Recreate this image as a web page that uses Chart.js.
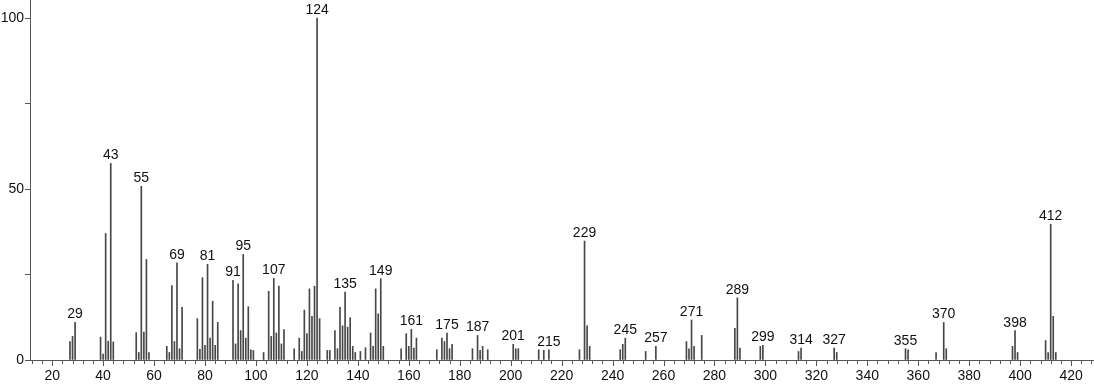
<!DOCTYPE html>
<html>
<head>
<meta charset="utf-8">
<script src="https://cdn.jsdelivr.net/npm/chart.js@4.4.1/dist/chart.umd.min.js"></script>
<style>
  html, body { margin: 0; padding: 0; background: #fff; }
  #wrap { width: 1094px; height: 384px; position: relative; }
</style>
</head>
<body>
<div id="wrap"><canvas id="chart1"></canvas></div>
<script>
// m/z values and relative intensities
const mz = [27, 28, 29, 39, 40, 41, 42, 43, 44, 53, 54, 55, 56, 57, 58, 65, 66, 67, 68, 69, 70, 71,
  77, 78, 79, 80, 81, 82, 83, 84, 85, 91, 92, 93, 94, 95, 96, 97, 98, 99, 103, 105, 106, 107, 108,
  109, 110, 111, 115, 117, 118, 119, 120, 121, 122, 123, 124, 125, 128, 129, 131, 132, 133, 134,
  135, 136, 137, 138, 139, 141, 143, 145, 146, 147, 148, 149, 150, 157, 159, 160, 161, 162, 163,
  171, 173, 174, 175, 176, 177, 185, 187, 188, 189, 191, 201, 202, 203, 211, 213, 215, 227, 229,
  230, 231, 243, 244, 245, 253, 257, 269, 270, 271, 272, 275, 288, 289, 290, 298, 299, 313, 314,
  327, 328, 355, 356, 367, 370, 371, 397, 398, 399, 410, 411, 412, 413, 414]
const intensity = [5.4, 6.9, 11.0, 6.7, 1.7, 37.0, 5.5, 57.5, 5.3, 8.0, 2.2, 50.8, 8.2, 29.4, 2.2, 4.0, 2.2, 21.8, 5.4, 28.4, 3.3, 15.4,
  12.1, 3.1, 24.1, 4.3, 28.0, 6.4, 17.2, 4.3, 11.0, 23.3, 4.7, 22.3, 8.6, 30.9, 6.4, 15.6, 3.0, 2.8, 2.2, 20.1, 6.9, 23.9, 7.9,
  21.6, 4.7, 8.9, 3.3, 6.4, 2.5, 14.6, 7.7, 20.8, 12.8, 21.6, 100, 12.1, 2.8, 2.8, 8.6, 3.3, 15.4, 10.0,
  19.9, 9.6, 12.4, 4.0, 2.2, 2.5, 3.6, 7.9, 4.0, 20.8, 13.5, 23.8, 4.0, 3.3, 7.7, 4.0, 9.0, 3.5, 6.4,
  3.0, 6.4, 5.4, 7.9, 3.3, 4.6, 3.3, 7.2, 2.8, 4.0, 3.0, 4.6, 3.3, 3.3, 3.0, 2.8, 3.0, 3.0, 34.8,
  10.0, 4.0, 3.0, 4.6, 6.4, 2.5, 4.0, 5.4, 3.3, 11.7, 4.0, 7.2, 9.3, 18.2, 3.5, 4.0, 4.3, 2.5, 3.5,
  3.5, 2.2, 3.3, 3.0, 2.2, 11.0, 3.3, 4.0, 8.6, 2.2, 5.7, 2.2, 39.7, 12.8, 2.2]
// peaks that carry a number above them
const labelled = [29, 43, 55, 69, 81, 91, 95, 107, 124, 135, 149, 161, 175, 187, 201, 215, 229,
  245, 257, 271, 289, 299, 314, 327, 355, 370, 398, 412]
const xLabels = [20, 40, 60, 80, 100, 120, 140, 160, 180, 200, 220, 240, 260, 280, 300, 320, 340, 360, 380, 400, 420]
const yTicks = [0, 25, 50, 75, 100]
const yLabels = [0, 50, 100]

const fontFamily = "'Liberation Sans', Arial, sans-serif"
const axisColor = '#555'

//draws the small ticks under the x axis and the peak numbers
const peakLabels = {
  id: 'peakLabels',
  afterDatasetsDraw(chart) {
    const ctx = chart.ctx
    const meta = chart.getDatasetMeta(0)
    ctx.save()
    ctx.font = '14px ' + fontFamily
    ctx.fillStyle = '#111'
    ctx.textAlign = 'center'
    ctx.textBaseline = 'alphabetic'
    labelled.forEach(m => {
      const i = mz.indexOf(m)
      if (i < 0) return
      const el = meta.data[i]
      ctx.fillText(String(m), el.x, el.y - 4)
    })
    ctx.restore()
  },
  afterDraw(chart) {
    const ctx = chart.ctx
    const xs = chart.scales.x
    const bottom = chart.chartArea.bottom
    ctx.save()
    ctx.strokeStyle = axisColor
    ctx.lineWidth = 1
    for (let v = 12; v <= 428; v += 4) {
      const px = Math.round(xs.getPixelForValue(v)) + 0.5
      const len = v % 20 === 0 ? 6 : 4
      ctx.beginPath()
      ctx.moveTo(px, bottom)
      ctx.lineTo(px, bottom + len)
      ctx.stroke()
    }
    ctx.restore()
  }
}

const ctx1 = document.getElementById('chart1').getContext('2d')
const spectrum = new Chart(ctx1, {
  type: 'bar',
  data: {
    datasets: [{
      data: mz.map((m, i) => ({ x: m, y: intensity[i] })),
      backgroundColor: '#474747',
      borderWidth: 0,
      barThickness: 1
    }]
  },
  options: {
    responsive: true,
    maintainAspectRatio: false,
    animation: false,
    layout: { padding: 0 },
    plugins: { legend: { display: false }, tooltip: { enabled: false } },
    scales: {
      x: {
        type: 'linear',
        offset: false,
        min: 11.3,
        max: 429,
        grid: { display: false, drawTicks: false, offset: false },
        border: { display: true, color: axisColor, width: 1 },
        afterBuildTicks: s => { s.ticks = xLabels.map(v => ({ value: v })) },
        afterFit: s => {
          s.height = 24
          s.paddingLeft = 0
          s.paddingRight = 0
        },
        ticks: {
          autoSkip: false,
          maxRotation: 0,
          padding: 8,
          color: '#111',
          font: { family: fontFamily, size: 14 },
          callback: v => String(v)
        }
      },
      y: {
        min: 0,
        max: 105.3,
        grid: { drawOnChartArea: false, drawTicks: true, tickLength: 5, tickColor: axisColor },
        border: { display: true, color: axisColor, width: 1 },
        afterBuildTicks: s => { s.ticks = yTicks.map(v => ({ value: v })) },
        afterFit: s => {
          s.width = 30
          s.paddingTop = 0
          s.paddingBottom = 0
        },
        ticks: {
          padding: 1,
          color: '#111',
          font: { family: fontFamily, size: 14 },
          callback: v => yLabels.includes(v) ? String(v) : ''
        }
      }
    }
  },
  plugins: [peakLabels]
})
</script>
</body>
</html>
